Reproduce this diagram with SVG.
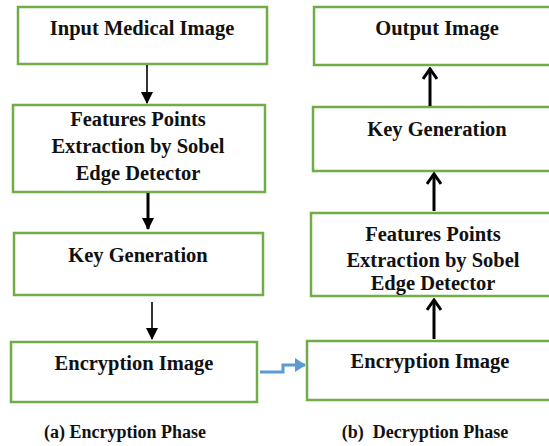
<svg xmlns="http://www.w3.org/2000/svg" width="549" height="446" viewBox="0 0 549 446">
<defs>
<style>
.box{fill:#fff;stroke:#70AD47;stroke-width:2.5}
.t{font-family:"Liberation Serif","Times New Roman",serif;font-weight:bold;font-size:20.5px;fill:#111;text-anchor:middle}
.cap{font-size:18px}
.thin{stroke:#000;stroke-width:1.6;fill:none}
.thick{stroke:#000;stroke-width:3;fill:none}
</style>
<marker id="ahb" markerWidth="12" markerHeight="12" refX="11" refY="6" orient="auto" markerUnits="userSpaceOnUse" viewBox="0 0 12 12">
<path d="M0,0 L12,6 L0,12 Z" fill="#000"/>
</marker>
<marker id="chev" markerWidth="14" markerHeight="16" refX="12" refY="8" orient="auto" markerUnits="userSpaceOnUse" viewBox="0 0 14 16">
<path d="M2,1 L12,8 L2,15" fill="none" stroke="#000" stroke-width="3"/>
</marker>
<marker id="blue" markerWidth="11" markerHeight="14" refX="10" refY="7" orient="auto" markerUnits="userSpaceOnUse" viewBox="0 0 11 14">
<path d="M0,0 L11,7 L0,14 Z" fill="#5B9BD5"/>
</marker>
</defs>
<g id="enc-input"><rect class="box" x="18" y="7" width="249" height="57"/><text class="t" x="142" y="35">Input Medical Image</text></g>
<g id="enc-features"><rect class="box" x="13" y="105" width="252" height="87"/><text class="t" x="138" y="126">Features Points</text><text class="t" x="138" y="153">Extraction by Sobel</text><text class="t" x="138" y="180">Edge Detector</text></g>
<g id="enc-key"><rect class="box" x="14" y="233" width="249" height="62"/><text class="t" x="138" y="262">Key Generation</text></g>
<g id="enc-image"><rect class="box" x="11" y="342" width="246" height="60"/><text class="t" x="134" y="370">Encryption Image</text></g>
<g id="dec-output"><rect class="box" x="314" y="7" width="250" height="58"/><text class="t" x="437" y="35">Output Image</text></g>
<g id="dec-key"><rect class="box" x="313" y="107" width="250" height="64"/><text class="t" x="437" y="136">Key Generation</text></g>
<g id="dec-features"><rect class="box" x="311" y="213" width="250" height="83"/><text class="t" x="433" y="241">Features Points</text><text class="t" x="433" y="267">Extraction by Sobel</text><text class="t" x="433" y="290">Edge Detector</text></g>
<g id="dec-image"><rect class="box" x="307" y="341" width="250" height="59"/><text class="t" x="430" y="368">Encryption Image</text></g>
<g id="captions"><text class="t cap" x="125" y="438">(a) Encryption Phase</text><text class="t cap" x="425" y="438" xml:space="preserve">(b)  Decryption Phase</text></g>
<g id="connectors">
<line class="thin" x1="147" y1="65" x2="147" y2="103" marker-end="url(#ahb)"/>
<line class="thick" x1="148" y1="193" x2="148" y2="229" marker-end="url(#ahb)"/>
<line class="thin" x1="152" y1="302" x2="152" y2="339" marker-end="url(#ahb)"/>
<line class="thick" x1="430" y1="106" x2="430" y2="69" marker-end="url(#chev)"/>
<line class="thick" x1="434" y1="211" x2="434" y2="174" marker-end="url(#chev)"/>
<line class="thick" x1="434" y1="339" x2="434" y2="300" marker-end="url(#chev)"/>
<path d="M260,372 H283 V365 H305" fill="none" stroke="#5B9BD5" stroke-width="3" marker-end="url(#blue)"/>
</g>
</svg>
